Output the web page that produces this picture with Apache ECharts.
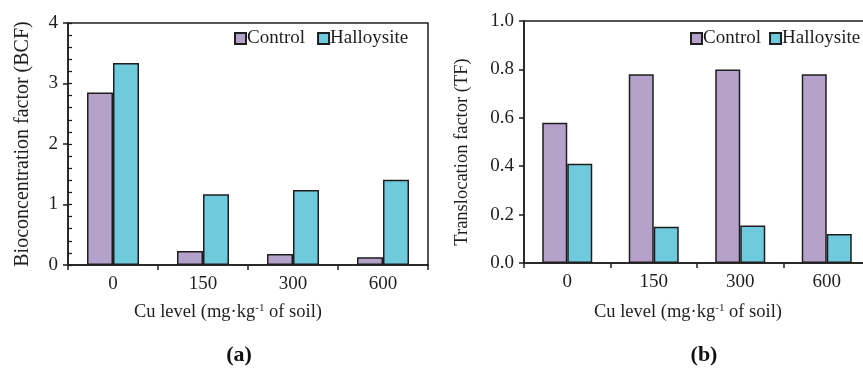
<!DOCTYPE html>
<html><head><meta charset="utf-8">
<script src="https://cdn.jsdelivr.net/npm/echarts@6/dist/echarts.min.js"></script>
<style>html,body{margin:0;padding:0;background:#fff}#c{width:863px;height:369px}</style>
</head><body><div id="c"></div>
<script>
const categories = ['0', '150', '300', '600'];
const bcfControl = [2.85, 0.23, 0.18, 0.13];
const bcfHalloysite = [3.34, 1.17, 1.24, 1.41];
const tfControl = [0.58, 0.78, 0.80, 0.78];
const tfHalloysite = [0.41, 0.15, 0.155, 0.12];
const bcfTicks = [0, 1, 2, 3, 4];
const tfTicks = [0.0, 0.2, 0.4, 0.6, 0.8, 1.0];
const seriesNames = ['Control', 'Halloysite'];

const FONT = 'Liberation Serif';
const INK = '#1e1e1e';
const PURPLE = '#B5A2CA';
const CYAN = '#70CADD';

const chart = echarts.init(document.getElementById('c'), null, {renderer: 'canvas'});

function xAx(gi) {
  return {
    type: 'category', gridIndex: gi, data: categories,
    axisLine: {lineStyle: {color: INK, width: 1.5}},
    axisTick: {show: true, length: 5, lineStyle: {color: INK, width: 1.5}},
    axisLabel: {color: INK, fontFamily: FONT, fontSize: 19, margin: 10}
  };
}
const barStyle = c => ({color: c, borderColor: INK, borderWidth: 1.5});

chart.setOption({
  animation: false,
  grid: [
    {left: 68, top: 23, width: 360, height: 242, outerBoundsMode: 'none', containLabel: false, show: true, borderColor: INK, borderWidth: 1.5, backgroundColor: 'transparent'},
    {left: 524, top: 21, width: 346, height: 242, outerBoundsMode: 'none', containLabel: false, show: true, borderColor: INK, borderWidth: 1.5, backgroundColor: 'transparent'}
  ],
  xAxis: [xAx(0), xAx(1)],
  yAxis: [
    {type: 'value', gridIndex: 0, min: bcfTicks[0], max: bcfTicks[bcfTicks.length - 1], interval: 1,
     splitLine: {show: false},
     axisLine: {show: true, lineStyle: {color: INK, width: 1.5}},
     axisTick: {show: true, length: 5, lineStyle: {color: INK, width: 1.5}},
     axisLabel: {color: INK, fontFamily: FONT, fontSize: 19, margin: 10},
     name: 'Bioconcentration factor (BCF)', nameLocation: 'middle', nameGap: 35,
     nameTextStyle: {color: INK, fontFamily: FONT, fontSize: 20}},
    {type: 'value', gridIndex: 0, min: 0, max: 4, interval: 0.2, position: 'left',
     splitLine: {show: false}, axisLine: {show: false}, axisLabel: {show: false},
     axisTick: {show: true, inside: true, length: 4, lineStyle: {color: INK, width: 1.3}}},
    {type: 'value', gridIndex: 1, min: tfTicks[0], max: tfTicks[tfTicks.length - 1], interval: 0.2,
     splitLine: {show: false},
     axisLine: {show: true, lineStyle: {color: INK, width: 1.5}},
     axisTick: {show: true, length: 5, lineStyle: {color: INK, width: 1.5}},
     axisLabel: {color: INK, fontFamily: FONT, fontSize: 19, margin: 10, formatter: v => v.toFixed(1)},
     name: 'Translocation factor (TF)', nameLocation: 'middle', nameGap: 52,
     nameTextStyle: {color: INK, fontFamily: FONT, fontSize: 18.5, padding: [0, 20, 0, 0]}}
  ],
  legend: [
    {left: 234, top: 29, padding: 0, orient: 'horizontal', width: 300, itemWidth: 11, itemHeight: 11, itemGap: 12, icon: 'rect', data: seriesNames,
     selectedMode: false,
     textStyle: {color: INK, fontFamily: FONT, fontSize: 19, padding: [0, 0, 0, -4]}},
    {left: 690, top: 29, padding: 0, orient: 'horizontal', width: 300, itemWidth: 11, itemHeight: 11, itemGap: 8, icon: 'rect', data: seriesNames,
     selectedMode: false,
     textStyle: {color: INK, fontFamily: FONT, fontSize: 19, padding: [0, 0, 0, -4]}}
  ],
  series: [
    {name: seriesNames[0], type: 'bar', xAxisIndex: 0, yAxisIndex: 0, data: bcfControl, barWidth: 26, barGap: '0%', itemStyle: barStyle(PURPLE)},
    {name: seriesNames[1], type: 'bar', xAxisIndex: 0, yAxisIndex: 0, data: bcfHalloysite, barWidth: 26, barGap: '0%', itemStyle: barStyle(CYAN)},
    {name: seriesNames[0], type: 'bar', xAxisIndex: 1, yAxisIndex: 2, data: tfControl, barWidth: 25, barGap: '0%', itemStyle: barStyle(PURPLE)},
    {name: seriesNames[1], type: 'bar', xAxisIndex: 1, yAxisIndex: 2, data: tfHalloysite, barWidth: 25, barGap: '0%', itemStyle: barStyle(CYAN)}
  ],
  graphic: [
    {type: 'text', x: 228, y: 312, style: {text: 'Cu level (mg·kg{sup|-1} of soil)', align: 'center', verticalAlign: 'middle',
      fill: INK, font: '18.5px "Liberation Serif"', rich: {sup: {fontSize: 11, fontFamily: FONT, fill: INK, padding: [0, 0, 8, 0]}}}},
    {type: 'text', x: 688, y: 312, style: {text: 'Cu level (mg·kg{sup|-1} of soil)', align: 'center', verticalAlign: 'middle',
      fill: INK, font: '18.5px "Liberation Serif"', rich: {sup: {fontSize: 11, fontFamily: FONT, fill: INK, padding: [0, 0, 8, 0]}}}},
    {type: 'text', x: 239, y: 355, style: {text: '(a)', align: 'center', verticalAlign: 'middle', fill: '#111', font: 'bold 22px "Liberation Serif"'}},
    {type: 'text', x: 704, y: 355, style: {text: '(b)', align: 'center', verticalAlign: 'middle', fill: '#111', font: 'bold 22px "Liberation Serif"'}}
  ]
});
</script></body></html>
